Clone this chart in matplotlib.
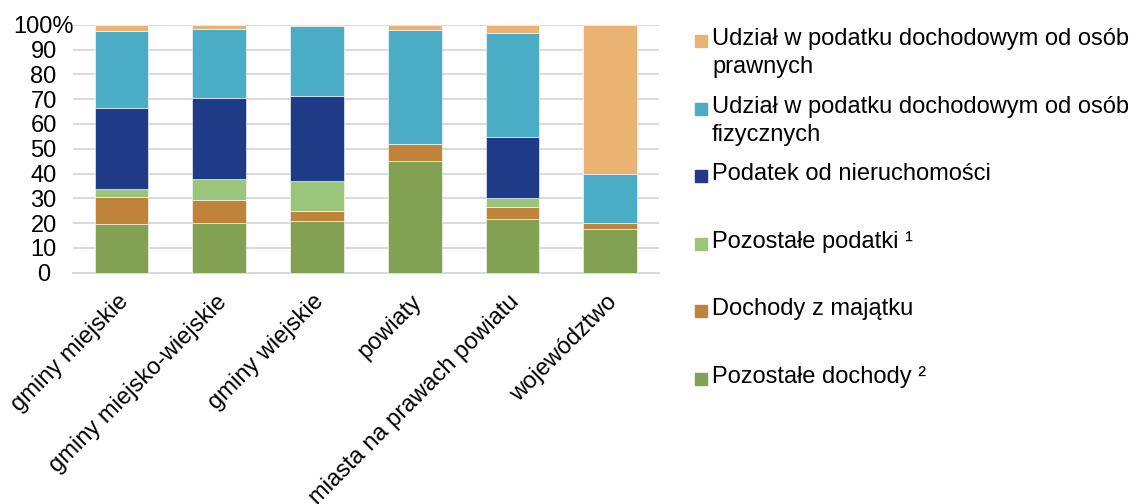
import matplotlib
matplotlib.use("Agg")
import matplotlib.pyplot as plt
from matplotlib.patches import Rectangle
from matplotlib import transforms
import numpy as np

plt.rcParams['font.family'] = ['Liberation Sans', 'DejaVu Sans']

categories = ['gminy miejskie', 'gminy miejsko-wiejskie', 'gminy wiejskie',
              'powiaty', 'miasta na prawach powiatu', 'województwo']

# shares in %, bottom to top
pozostale_dochody = [19.6, 19.9, 20.7, 44.9, 21.5, 17.5]
dochody_majatek = [10.9, 9.5, 4.3, 7.0, 5.1, 2.4]
pozostale_podatki = [3.4, 8.4, 12.0, 0.0, 3.4, 0.0]
podatek_nieruch = [32.5, 32.8, 34.4, 0.0, 24.6, 0.0]
pit = [31.0, 27.8, 27.9, 46.1, 42.2, 20.0]
cit = [2.6, 1.6, 0.7, 2.0, 3.2, 60.1]

series = [
    ('Pozostałe dochody ²', pozostale_dochody, '#83a152'),
    ('Dochody z majątku', dochody_majatek, '#c0833c'),
    ('Pozostałe podatki ¹', pozostale_podatki, '#9bc57a'),
    ('Podatek od nieruchomości', podatek_nieruch, '#1f3a87'),
    ('Udział w podatku dochodowym od osób\nfizycznych', pit, '#4bacc6'),
    ('Udział w podatku dochodowym od osób\nprawnych', cit, '#ebb373'),
]

FS = 17

fig = plt.figure(figsize=(11.39, 5.04), dpi=100)
ax = fig.add_axes([72.7/1139, 1-272.7/504, (659-72.7)/1139, 248/504])

x = np.arange(len(categories))
bottom = np.zeros(len(categories))
for name, vals, col in series:
    vals = np.array(vals)
    ax.bar(x, vals, 0.55, bottom=bottom, color=col, edgecolor='white', linewidth=0.4, zorder=3)
    bottom += vals

ax.set_xlim(-0.5, len(categories)-0.5)
ax.set_ylim(0, 100)
ax.set_yticks(range(0, 101, 10))
ax.set_yticklabels([str(v) for v in range(0, 100, 10)] + ['100%'], ha='center')
ax.tick_params(axis='y', length=0, pad=21, labelsize=FS)
ax.set_xticks(x)
ax.set_xticklabels(categories, rotation=45, ha='right', rotation_mode='anchor', fontsize=FS)
ax.tick_params(axis='x', length=0, pad=13)
shift = transforms.ScaledTranslation(-4/100, 0, fig.dpi_scale_trans)
for lab in ax.get_xticklabels():
    lab.set_transform(lab.get_transform() + shift)
ax.grid(axis='y', color='#d9d9d9', linewidth=1.4, zorder=0)
for s in ['left', 'right', 'top']:
    ax.spines[s].set_visible(False)
ax.spines['bottom'].set_color('#d9d9d9')
ax.spines['bottom'].set_linewidth(1.4)

# legend drawn as Excel does, top entry = top segment
for i, (name, vals, col) in enumerate(reversed(series)):
    yc = 41 + i*67.6
    fig.patches.append(Rectangle((695/1139, 1-(yc+6)/504), 12/1139, 12/504,
                                 transform=fig.transFigure, color=col))
    fig.text(712/1139, 1-(yc-13)/504, name, fontsize=FS, va='top', ha='left',
             linespacing=1.35)

fig.savefig('out.png', dpi=100)
